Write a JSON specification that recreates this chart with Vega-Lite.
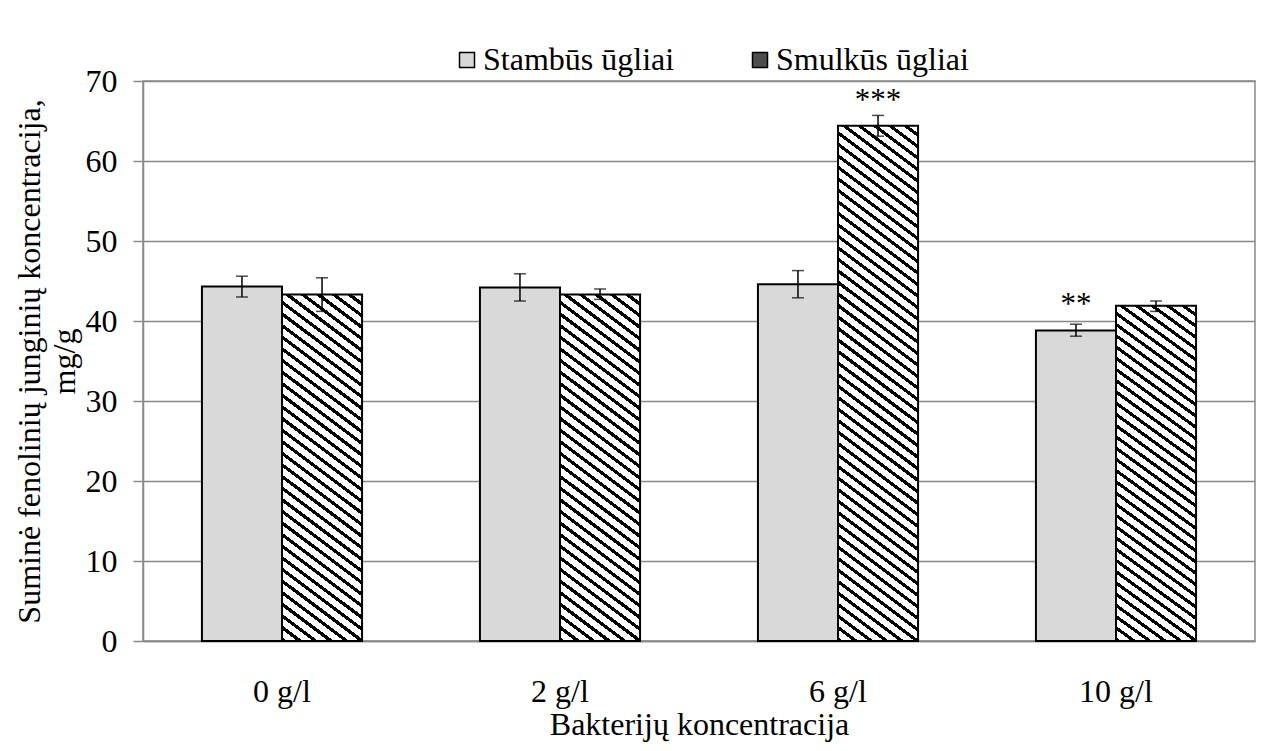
{
"$schema":"https://vega.github.io/schema/vega-lite/v6.json",
"width":1112,"height":560,
"autosize":{"type":"none"},
"padding":{"left":143,"top":81,"right":29,"bottom":110},
"background":"white",
"config":{"view":{"stroke":"#898989","strokeWidth":1.5},"font":"Liberation Serif","legend":{"labelFont":"Liberation Serif","labelFontSize":32,"labelColor":"black"}},
"datasets":{
"bars":[
{"conc":"0 g/l","type":"Stambūs ūgliai","value":44.3,"lo":43.0,"hi":45.6},
{"conc":"0 g/l","type":"Smulkūs ūgliai","value":43.3,"lo":41.2,"hi":45.4},
{"conc":"2 g/l","type":"Stambūs ūgliai","value":44.2,"lo":42.5,"hi":45.9},
{"conc":"2 g/l","type":"Smulkūs ūgliai","value":43.3,"lo":42.7,"hi":44.0},
{"conc":"6 g/l","type":"Stambūs ūgliai","value":44.6,"lo":42.9,"hi":46.3},
{"conc":"6 g/l","type":"Smulkūs ūgliai","value":64.4,"lo":63.1,"hi":65.7},
{"conc":"10 g/l","type":"Stambūs ūgliai","value":38.8,"lo":38.1,"hi":39.6},
{"conc":"10 g/l","type":"Smulkūs ūgliai","value":41.9,"lo":41.2,"hi":42.5}
],
"sig":[
{"conc":"6 g/l","type":"Smulkūs ūgliai","sig":"***","pos":68.4},
{"conc":"10 g/l","type":"Stambūs ūgliai","sig":"**","pos":42.9}
]
},
"data":{"name":"bars"},
"encoding":{
"x":{"field":"conc","type":"nominal","sort":["0 g/l","2 g/l","6 g/l","10 g/l"],"scale":{"paddingInner":0.424,"paddingOuter":0.212},
"axis":{"title":"Bakterijų koncentracija","labelAngle":0,"ticks":false,"tickSize":0,"domainColor":"#898989","domainWidth":1.5,"labelFont":"Liberation Serif","labelFontSize":32,"labelColor":"black","labelPadding":35,"labelLimit":300,"titleFont":"Liberation Serif","titleFontSize":32,"titleFontWeight":"normal","titleColor":"black","titleY":68}},
"xOffset":{"field":"type","type":"nominal","sort":["Stambūs ūgliai","Smulkūs ūgliai"],"scale":{"paddingInner":0,"paddingOuter":0}}
},
"layer":[
{"mark":{"type":"bar","stroke":"black","strokeWidth":2},
"encoding":{
"y":{"field":"value","type":"quantitative","scale":{"domain":[0,70],"nice":false},
"axis":{"values":[0,10,20,30,40,50,60,70],"grid":true,"gridColor":"#898989","gridWidth":1.5,"domainColor":"#898989","domainWidth":1.5,"tickColor":"#898989","tickWidth":1.5,"tickSize":10,"labelFont":"Liberation Serif","labelFontSize":32,"labelColor":"black","labelPadding":16,"title":["Suminė fenolinių junginių koncentracija,","mg/g"],"titleFont":"Liberation Serif","titleFontSize":32,"titleFontWeight":"normal","titleColor":"black","titleLineHeight":35,"titleX":-97,"titleLimit":800}},
"fill":{"field":"type","type":"nominal","scale":{"domain":["Stambūs ūgliai","Smulkūs ūgliai"],"range":["#d9d9d9","#4d4d4d"]},
"legend":{"orient":"none","legendX":308,"legendY":-37,"direction":"horizontal","title":null,"symbolType":"square","symbolSize":225,"symbolStrokeColor":"black","symbolStrokeWidth":1.5,"labelFont":"Liberation Serif","labelFontSize":32,"labelColor":"black","labelLimit":400,"labelOffset":0,"columnPadding":69,"padding":0},
"condition":[
{"test":"datum.type === 'Smulkūs ūgliai' && datum.conc === '6 g/l'","value":{"gradient":"linear","x1":0,"y1":1,"x2":0.1283,"y2":-0.1015,"stops":[
{"offset":0,"color":"#000"},{"offset":0.007,"color":"#000"},{"offset":0.007,"color":"#fff"},{"offset":0.02,"color":"#fff"},
{"offset":0.02,"color":"#000"},{"offset":0.027,"color":"#000"},{"offset":0.027,"color":"#fff"},{"offset":0.04,"color":"#fff"},
{"offset":0.04,"color":"#000"},{"offset":0.047,"color":"#000"},{"offset":0.047,"color":"#fff"},{"offset":0.06,"color":"#fff"},
{"offset":0.06,"color":"#000"},{"offset":0.067,"color":"#000"},{"offset":0.067,"color":"#fff"},{"offset":0.08,"color":"#fff"},
{"offset":0.08,"color":"#000"},{"offset":0.087,"color":"#000"},{"offset":0.087,"color":"#fff"},{"offset":0.1,"color":"#fff"},
{"offset":0.1,"color":"#000"},{"offset":0.107,"color":"#000"},{"offset":0.107,"color":"#fff"},{"offset":0.12,"color":"#fff"},
{"offset":0.12,"color":"#000"},{"offset":0.127,"color":"#000"},{"offset":0.127,"color":"#fff"},{"offset":0.14,"color":"#fff"},
{"offset":0.14,"color":"#000"},{"offset":0.147,"color":"#000"},{"offset":0.147,"color":"#fff"},{"offset":0.16,"color":"#fff"},
{"offset":0.16,"color":"#000"},{"offset":0.167,"color":"#000"},{"offset":0.167,"color":"#fff"},{"offset":0.18,"color":"#fff"},
{"offset":0.18,"color":"#000"},{"offset":0.187,"color":"#000"},{"offset":0.187,"color":"#fff"},{"offset":0.2,"color":"#fff"},
{"offset":0.2,"color":"#000"},{"offset":0.207,"color":"#000"},{"offset":0.207,"color":"#fff"},{"offset":0.22,"color":"#fff"},
{"offset":0.22,"color":"#000"},{"offset":0.227,"color":"#000"},{"offset":0.227,"color":"#fff"},{"offset":0.24,"color":"#fff"},
{"offset":0.24,"color":"#000"},{"offset":0.247,"color":"#000"},{"offset":0.247,"color":"#fff"},{"offset":0.26,"color":"#fff"},
{"offset":0.26,"color":"#000"},{"offset":0.267,"color":"#000"},{"offset":0.267,"color":"#fff"},{"offset":0.28,"color":"#fff"},
{"offset":0.28,"color":"#000"},{"offset":0.287,"color":"#000"},{"offset":0.287,"color":"#fff"},{"offset":0.3,"color":"#fff"},
{"offset":0.3,"color":"#000"},{"offset":0.307,"color":"#000"},{"offset":0.307,"color":"#fff"},{"offset":0.32,"color":"#fff"},
{"offset":0.32,"color":"#000"},{"offset":0.327,"color":"#000"},{"offset":0.327,"color":"#fff"},{"offset":0.34,"color":"#fff"},
{"offset":0.34,"color":"#000"},{"offset":0.347,"color":"#000"},{"offset":0.347,"color":"#fff"},{"offset":0.36,"color":"#fff"},
{"offset":0.36,"color":"#000"},{"offset":0.367,"color":"#000"},{"offset":0.367,"color":"#fff"},{"offset":0.38,"color":"#fff"},
{"offset":0.38,"color":"#000"},{"offset":0.387,"color":"#000"},{"offset":0.387,"color":"#fff"},{"offset":0.4,"color":"#fff"},
{"offset":0.4,"color":"#000"},{"offset":0.407,"color":"#000"},{"offset":0.407,"color":"#fff"},{"offset":0.42,"color":"#fff"},
{"offset":0.42,"color":"#000"},{"offset":0.427,"color":"#000"},{"offset":0.427,"color":"#fff"},{"offset":0.44,"color":"#fff"},
{"offset":0.44,"color":"#000"},{"offset":0.447,"color":"#000"},{"offset":0.447,"color":"#fff"},{"offset":0.46,"color":"#fff"},
{"offset":0.46,"color":"#000"},{"offset":0.467,"color":"#000"},{"offset":0.467,"color":"#fff"},{"offset":0.48,"color":"#fff"},
{"offset":0.48,"color":"#000"},{"offset":0.487,"color":"#000"},{"offset":0.487,"color":"#fff"},{"offset":0.5,"color":"#fff"},
{"offset":0.5,"color":"#000"},{"offset":0.507,"color":"#000"},{"offset":0.507,"color":"#fff"},{"offset":0.52,"color":"#fff"},
{"offset":0.52,"color":"#000"},{"offset":0.527,"color":"#000"},{"offset":0.527,"color":"#fff"},{"offset":0.54,"color":"#fff"},
{"offset":0.54,"color":"#000"},{"offset":0.547,"color":"#000"},{"offset":0.547,"color":"#fff"},{"offset":0.56,"color":"#fff"},
{"offset":0.56,"color":"#000"},{"offset":0.567,"color":"#000"},{"offset":0.567,"color":"#fff"},{"offset":0.58,"color":"#fff"},
{"offset":0.58,"color":"#000"},{"offset":0.587,"color":"#000"},{"offset":0.587,"color":"#fff"},{"offset":0.6,"color":"#fff"},
{"offset":0.6,"color":"#000"},{"offset":0.607,"color":"#000"},{"offset":0.607,"color":"#fff"},{"offset":0.62,"color":"#fff"},
{"offset":0.62,"color":"#000"},{"offset":0.627,"color":"#000"},{"offset":0.627,"color":"#fff"},{"offset":0.64,"color":"#fff"},
{"offset":0.64,"color":"#000"},{"offset":0.647,"color":"#000"},{"offset":0.647,"color":"#fff"},{"offset":0.66,"color":"#fff"},
{"offset":0.66,"color":"#000"},{"offset":0.667,"color":"#000"},{"offset":0.667,"color":"#fff"},{"offset":0.68,"color":"#fff"},
{"offset":0.68,"color":"#000"},{"offset":0.687,"color":"#000"},{"offset":0.687,"color":"#fff"},{"offset":0.7,"color":"#fff"},
{"offset":0.7,"color":"#000"},{"offset":0.707,"color":"#000"},{"offset":0.707,"color":"#fff"},{"offset":0.72,"color":"#fff"},
{"offset":0.72,"color":"#000"},{"offset":0.727,"color":"#000"},{"offset":0.727,"color":"#fff"},{"offset":0.74,"color":"#fff"},
{"offset":0.74,"color":"#000"},{"offset":0.747,"color":"#000"},{"offset":0.747,"color":"#fff"},{"offset":0.76,"color":"#fff"},
{"offset":0.76,"color":"#000"},{"offset":0.767,"color":"#000"},{"offset":0.767,"color":"#fff"},{"offset":0.78,"color":"#fff"},
{"offset":0.78,"color":"#000"},{"offset":0.787,"color":"#000"},{"offset":0.787,"color":"#fff"},{"offset":0.8,"color":"#fff"},
{"offset":0.8,"color":"#000"},{"offset":0.807,"color":"#000"},{"offset":0.807,"color":"#fff"},{"offset":0.82,"color":"#fff"},
{"offset":0.82,"color":"#000"},{"offset":0.827,"color":"#000"},{"offset":0.827,"color":"#fff"},{"offset":0.84,"color":"#fff"},
{"offset":0.84,"color":"#000"},{"offset":0.847,"color":"#000"},{"offset":0.847,"color":"#fff"},{"offset":0.86,"color":"#fff"},
{"offset":0.86,"color":"#000"},{"offset":0.867,"color":"#000"},{"offset":0.867,"color":"#fff"},{"offset":0.88,"color":"#fff"},
{"offset":0.88,"color":"#000"},{"offset":0.887,"color":"#000"},{"offset":0.887,"color":"#fff"},{"offset":0.9,"color":"#fff"},
{"offset":0.9,"color":"#000"},{"offset":0.907,"color":"#000"},{"offset":0.907,"color":"#fff"},{"offset":0.92,"color":"#fff"},
{"offset":0.92,"color":"#000"},{"offset":0.927,"color":"#000"},{"offset":0.927,"color":"#fff"},{"offset":0.94,"color":"#fff"},
{"offset":0.94,"color":"#000"},{"offset":0.947,"color":"#000"},{"offset":0.947,"color":"#fff"},{"offset":0.96,"color":"#fff"},
{"offset":0.96,"color":"#000"},{"offset":0.967,"color":"#000"},{"offset":0.967,"color":"#fff"},{"offset":0.98,"color":"#fff"},
{"offset":0.98,"color":"#000"},{"offset":0.987,"color":"#000"},{"offset":0.987,"color":"#fff"},{"offset":1,"color":"#fff"}
]}},
{"test":"datum.type === 'Smulkūs ūgliai'","value":{"gradient":"linear","x1":0,"y1":1,"x2":0.1973,"y2":-0.139,"stops":[
{"offset":0,"color":"#000"},{"offset":0.01,"color":"#000"},{"offset":0.01,"color":"#fff"},{"offset":0.02857,"color":"#fff"},
{"offset":0.02857,"color":"#000"},{"offset":0.03857,"color":"#000"},{"offset":0.03857,"color":"#fff"},{"offset":0.05714,"color":"#fff"},
{"offset":0.05714,"color":"#000"},{"offset":0.06714,"color":"#000"},{"offset":0.06714,"color":"#fff"},{"offset":0.08571,"color":"#fff"},
{"offset":0.08571,"color":"#000"},{"offset":0.09571,"color":"#000"},{"offset":0.09571,"color":"#fff"},{"offset":0.11429,"color":"#fff"},
{"offset":0.11429,"color":"#000"},{"offset":0.12429,"color":"#000"},{"offset":0.12429,"color":"#fff"},{"offset":0.14286,"color":"#fff"},
{"offset":0.14286,"color":"#000"},{"offset":0.15286,"color":"#000"},{"offset":0.15286,"color":"#fff"},{"offset":0.17143,"color":"#fff"},
{"offset":0.17143,"color":"#000"},{"offset":0.18143,"color":"#000"},{"offset":0.18143,"color":"#fff"},{"offset":0.2,"color":"#fff"},
{"offset":0.2,"color":"#000"},{"offset":0.21,"color":"#000"},{"offset":0.21,"color":"#fff"},{"offset":0.22857,"color":"#fff"},
{"offset":0.22857,"color":"#000"},{"offset":0.23857,"color":"#000"},{"offset":0.23857,"color":"#fff"},{"offset":0.25714,"color":"#fff"},
{"offset":0.25714,"color":"#000"},{"offset":0.26714,"color":"#000"},{"offset":0.26714,"color":"#fff"},{"offset":0.28571,"color":"#fff"},
{"offset":0.28571,"color":"#000"},{"offset":0.29571,"color":"#000"},{"offset":0.29571,"color":"#fff"},{"offset":0.31429,"color":"#fff"},
{"offset":0.31429,"color":"#000"},{"offset":0.32429,"color":"#000"},{"offset":0.32429,"color":"#fff"},{"offset":0.34286,"color":"#fff"},
{"offset":0.34286,"color":"#000"},{"offset":0.35286,"color":"#000"},{"offset":0.35286,"color":"#fff"},{"offset":0.37143,"color":"#fff"},
{"offset":0.37143,"color":"#000"},{"offset":0.38143,"color":"#000"},{"offset":0.38143,"color":"#fff"},{"offset":0.4,"color":"#fff"},
{"offset":0.4,"color":"#000"},{"offset":0.41,"color":"#000"},{"offset":0.41,"color":"#fff"},{"offset":0.42857,"color":"#fff"},
{"offset":0.42857,"color":"#000"},{"offset":0.43857,"color":"#000"},{"offset":0.43857,"color":"#fff"},{"offset":0.45714,"color":"#fff"},
{"offset":0.45714,"color":"#000"},{"offset":0.46714,"color":"#000"},{"offset":0.46714,"color":"#fff"},{"offset":0.48571,"color":"#fff"},
{"offset":0.48571,"color":"#000"},{"offset":0.49571,"color":"#000"},{"offset":0.49571,"color":"#fff"},{"offset":0.51429,"color":"#fff"},
{"offset":0.51429,"color":"#000"},{"offset":0.52429,"color":"#000"},{"offset":0.52429,"color":"#fff"},{"offset":0.54286,"color":"#fff"},
{"offset":0.54286,"color":"#000"},{"offset":0.55286,"color":"#000"},{"offset":0.55286,"color":"#fff"},{"offset":0.57143,"color":"#fff"},
{"offset":0.57143,"color":"#000"},{"offset":0.58143,"color":"#000"},{"offset":0.58143,"color":"#fff"},{"offset":0.6,"color":"#fff"},
{"offset":0.6,"color":"#000"},{"offset":0.61,"color":"#000"},{"offset":0.61,"color":"#fff"},{"offset":0.62857,"color":"#fff"},
{"offset":0.62857,"color":"#000"},{"offset":0.63857,"color":"#000"},{"offset":0.63857,"color":"#fff"},{"offset":0.65714,"color":"#fff"},
{"offset":0.65714,"color":"#000"},{"offset":0.66714,"color":"#000"},{"offset":0.66714,"color":"#fff"},{"offset":0.68571,"color":"#fff"},
{"offset":0.68571,"color":"#000"},{"offset":0.69571,"color":"#000"},{"offset":0.69571,"color":"#fff"},{"offset":0.71429,"color":"#fff"},
{"offset":0.71429,"color":"#000"},{"offset":0.72429,"color":"#000"},{"offset":0.72429,"color":"#fff"},{"offset":0.74286,"color":"#fff"},
{"offset":0.74286,"color":"#000"},{"offset":0.75286,"color":"#000"},{"offset":0.75286,"color":"#fff"},{"offset":0.77143,"color":"#fff"},
{"offset":0.77143,"color":"#000"},{"offset":0.78143,"color":"#000"},{"offset":0.78143,"color":"#fff"},{"offset":0.8,"color":"#fff"},
{"offset":0.8,"color":"#000"},{"offset":0.81,"color":"#000"},{"offset":0.81,"color":"#fff"},{"offset":0.82857,"color":"#fff"},
{"offset":0.82857,"color":"#000"},{"offset":0.83857,"color":"#000"},{"offset":0.83857,"color":"#fff"},{"offset":0.85714,"color":"#fff"},
{"offset":0.85714,"color":"#000"},{"offset":0.86714,"color":"#000"},{"offset":0.86714,"color":"#fff"},{"offset":0.88571,"color":"#fff"},
{"offset":0.88571,"color":"#000"},{"offset":0.89571,"color":"#000"},{"offset":0.89571,"color":"#fff"},{"offset":0.91429,"color":"#fff"},
{"offset":0.91429,"color":"#000"},{"offset":0.92429,"color":"#000"},{"offset":0.92429,"color":"#fff"},{"offset":0.94286,"color":"#fff"},
{"offset":0.94286,"color":"#000"},{"offset":0.95286,"color":"#000"},{"offset":0.95286,"color":"#fff"},{"offset":0.97143,"color":"#fff"},
{"offset":0.97143,"color":"#000"},{"offset":0.98143,"color":"#000"},{"offset":0.98143,"color":"#fff"},{"offset":1,"color":"#fff"}
]}}
]}
}},
{"mark":{"type":"rule","color":"black","strokeWidth":1.5},
"encoding":{"y":{"field":"lo","type":"quantitative"},"y2":{"field":"hi"}}},
{"mark":{"type":"tick","color":"black","size":12,"thickness":1.5},
"encoding":{"y":{"field":"lo","type":"quantitative"}}},
{"mark":{"type":"tick","color":"black","size":12,"thickness":1.5},
"encoding":{"y":{"field":"hi","type":"quantitative"}}},
{"data":{"name":"sig"},
"mark":{"type":"text","font":"Liberation Serif","fontSize":31,"baseline":"middle","dy":7,"color":"black"},
"encoding":{"y":{"field":"pos","type":"quantitative"},"text":{"field":"sig"}}}
]
}
